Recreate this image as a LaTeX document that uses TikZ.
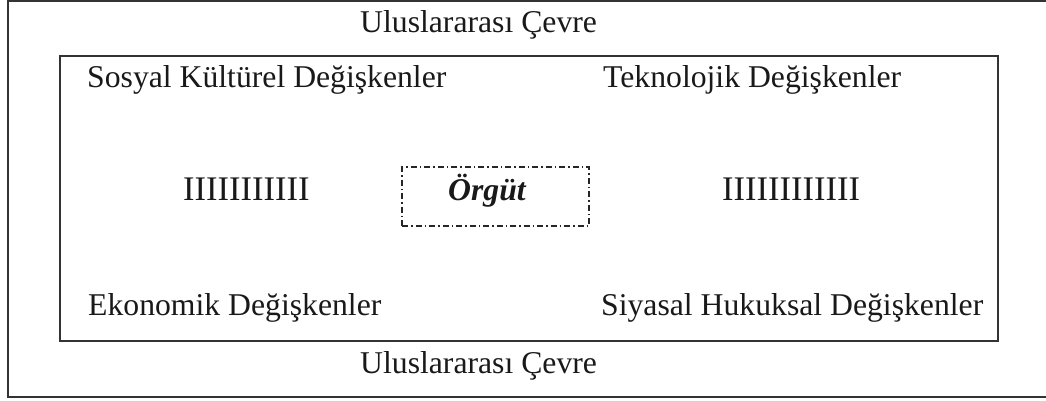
\documentclass[tikz,border=0pt]{standalone}
\usepackage{fontspec}
\setmainfont{Liberation Serif}
\begin{document}
\begin{tikzpicture}[x=1pt,y=-1pt,
  frame/.style={draw=black!80,line width=2pt},
  lbl/.style={inner sep=0pt,anchor=base west,font=\fontsize{31.7}{36}\selectfont,text=black!90},
  ibar/.style={inner sep=0pt,anchor=base west,font=\fontsize{34.5}{38}\selectfont,text=black!90},
  orgbox/.style={draw=black!85,line width=1.5pt,dash pattern=on 6pt off 3pt on 1.5pt off 3pt}]
\useasboundingbox (0,0) rectangle (1046,401);
\clip (0,0) rectangle (1046,401);
% outer frame (right edge lies beyond the picture)
\draw[frame] (1056,1) -- (8,1) -- (8,397) -- (1056,397);
% inner frame
\draw[frame] (60,56) rectangle (998,341);
% texts
\node[lbl] (top) at (360,33) {Uluslararası Çevre};
\node[lbl] (bottom) at (360,373) {Uluslararası Çevre};
\node[lbl] (sosyal) at (87,88) {Sosyal Kültürel Değişkenler};
\node[lbl] (tekno) at (603,88) {Teknolojik Değişkenler};
\node[lbl] (ekon) at (88,315) {Ekonomik Değişkenler};
\node[lbl] (siyasal) at (601,315) {Siyasal Hukuksal Değişkenler};
\node[ibar] (leftI) at (183,200) {IIIIIIIIIII};
\node[ibar] (rightI) at (722,200) {IIIIIIIIIIII};
\node[lbl] (orgut) at (448,200) {\bfseries\itshape Örgüt};
\node[orgbox,minimum width=187pt,minimum height=59pt,inner sep=0pt] (orgbox) at (495.5,196.5) {};
\end{tikzpicture}
\end{document}
